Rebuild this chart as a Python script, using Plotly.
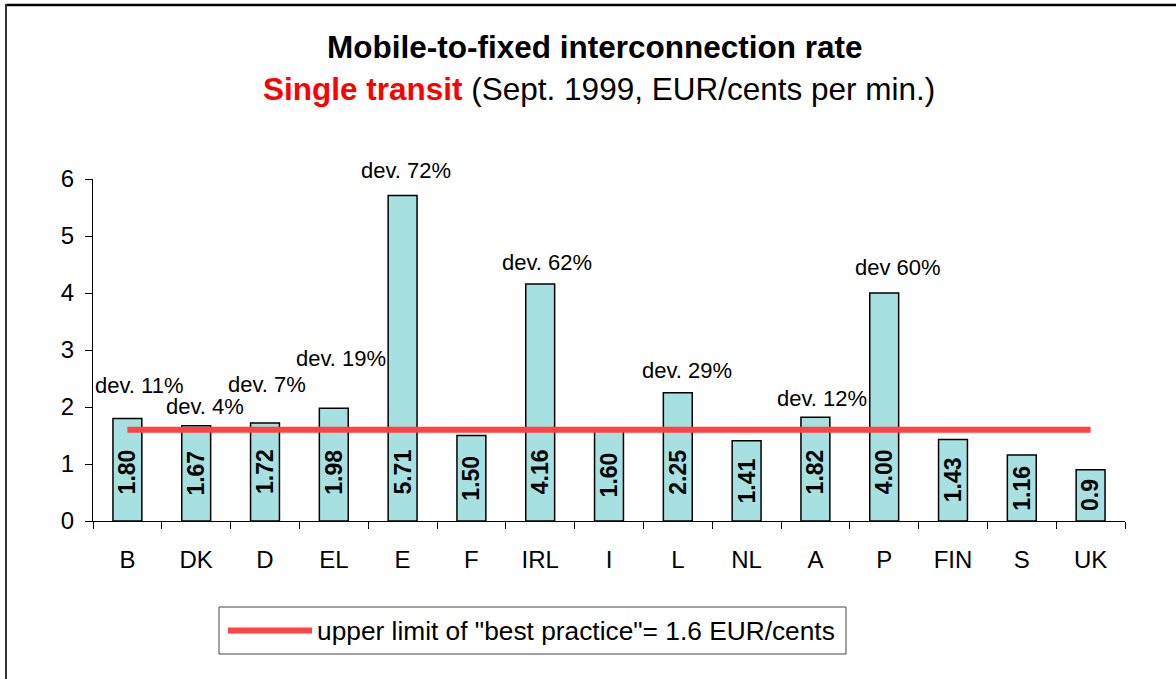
import plotly.graph_objects as go

# ---- data ----
countries = ["B", "DK", "D", "EL", "E", "F", "IRL", "I", "L", "NL", "A", "P", "FIN", "S", "UK"]
rates = [1.80, 1.67, 1.72, 1.98, 5.71, 1.50, 4.16, 1.60, 2.25, 1.41, 1.82, 4.00, 1.43, 1.16, 0.90]
rate_labels = ["1.80", "1.67", "1.72", "1.98", "5.71", "1.50", "4.16", "1.60", "2.25", "1.41", "1.82", "4.00", "1.43", "1.16", "0.9"]
dev_countries = ["B", "DK", "D", "EL", "E", "IRL", "L", "A", "P"]
dev_labels = ["dev. 11%", "dev. 4%", "dev. 7%", "dev. 19%", "dev. 72%", "dev. 62%", "dev. 29%", "dev. 12%", "dev 60%"]
best_practice = 1.6
y_ticks = [0, 1, 2, 3, 4, 5, 6]

# ---- style ----
FONT = "Liberation Sans, Arial, sans-serif"
BAR_COLOR = "#A6E0E0"
RED = "#FF4242"
W, H = 1176, 679
ML, MR, MT, MB = 93, 51, 179, 158
PW, PH = W - ML - MR, H - MT - MB

def px(x):
    return (x - ML) / PW

def py(y):
    return (H - MB - y) / PH

# per-label pixel offsets of the deviation notes (style only)
dev_xshift = [12, 9, 2, 7, 3, 7, 9, 7, 14]
dev_yshift = [33, 19, 38, 50, 25, 21, 22, 19, 26]

fig = go.Figure()
fig.add_trace(go.Bar(
    x=countries, y=rates,
    marker=dict(color=BAR_COLOR, line=dict(color="black", width=1.5)),
    showlegend=False, hoverinfo="x+y",
))
fig.add_trace(go.Scatter(
    x=countries, y=[best_practice] * len(countries),
    mode="lines", line=dict(color=RED, width=6),
    name='upper limit of "best practice"= 1.6 EUR/cents', showlegend=False,
))

annotations = []
# value labels inside bars (rotated)
for c, v, t in zip(countries, rates, rate_labels):
    annotations.append(dict(
        x=c, y=min(v / 2, 0.86), text=f"<b>{t}</b>", textangle=-90,
        showarrow=False, xanchor="center", yanchor="middle",
        font=dict(family=FONT, size=23, color="black"),
    ))
# deviation notes
rate_of = dict(zip(countries, rates))
for c, t, dx, dy in zip(dev_countries, dev_labels, dev_xshift, dev_yshift):
    annotations.append(dict(
        x=c, y=rate_of[c], text=t, showarrow=False,
        xanchor="center", yanchor="middle", xshift=dx, yshift=dy,
        font=dict(family=FONT, size=22, color="black"),
    ))
# titles
annotations.append(dict(
    xref="paper", yref="paper", x=px(595), y=py(47.5),
    text="<b>Mobile-to-fixed interconnection rate</b>", showarrow=False,
    xanchor="center", yanchor="middle",
    font=dict(family=FONT, size=31.5, color="black"),
))
annotations.append(dict(
    xref="paper", yref="paper", x=px(599), y=py(89),
    text="<span style='color:#FF0000'><b>Single transit</b></span> (Sept. 1999, EUR/cents per min.)",
    showarrow=False, xanchor="center", yanchor="middle",
    font=dict(family=FONT, size=31.5, color="black"),
))
# legend text
annotations.append(dict(
    xref="paper", yref="paper", x=px(315), y=py(631),
    text='upper limit of "best practice"= 1.6 EUR/cents', showarrow=False,
    xanchor="left", yanchor="middle",
    font=dict(family=FONT, size=26.3, color="black"),
))

shapes = [
    # outer frame (top and left edges)
    dict(type="line", xref="paper", yref="paper", x0=px(6), x1=px(W + 5), y0=py(5), y1=py(5),
         line=dict(color="black", width=2.5)),
    dict(type="line", xref="paper", yref="paper", x0=px(6), x1=px(6), y0=py(4), y1=py(H + 5),
         line=dict(color="#333333", width=2)),
    # legend box
    dict(type="rect", xref="paper", yref="paper", x0=px(219), x1=px(846), y0=py(654), y1=py(607),
         line=dict(color="#444444", width=1), fillcolor="rgba(0,0,0,0)"),
    dict(type="line", xref="paper", yref="paper", x0=px(228), x1=px(312), y0=py(630.5), y1=py(630.5),
         line=dict(color=RED, width=6)),
]

fig.update_layout(
    width=W, height=H,
    margin=dict(l=ML, r=MR, t=MT, b=MB, pad=0),
    paper_bgcolor="white", plot_bgcolor="white",
    bargap=0.58,
    showlegend=False,
    annotations=annotations, shapes=shapes,
    font=dict(family=FONT, color="black"),
    xaxis=dict(
        type="category", showgrid=False, showline=True, linecolor="black", linewidth=1,
        ticks="outside", tickson="boundaries", ticklen=7, tickcolor="black",
        tickfont=dict(family=FONT, size=24, color="black"), ticklabelstandoff=17,
    ),
    yaxis=dict(
        range=[0, 6], tickvals=y_ticks, showgrid=False, zeroline=False,
        showline=True, linecolor="black", linewidth=1,
        ticks="outside", ticklen=7, tickcolor="black",
        tickfont=dict(family=FONT, size=24, color="black"), ticklabelstandoff=6,
    ),
)

fig.write_html("out.html", config={"displayModeBar": False},
               post_script="document.body.style.margin='0';")
